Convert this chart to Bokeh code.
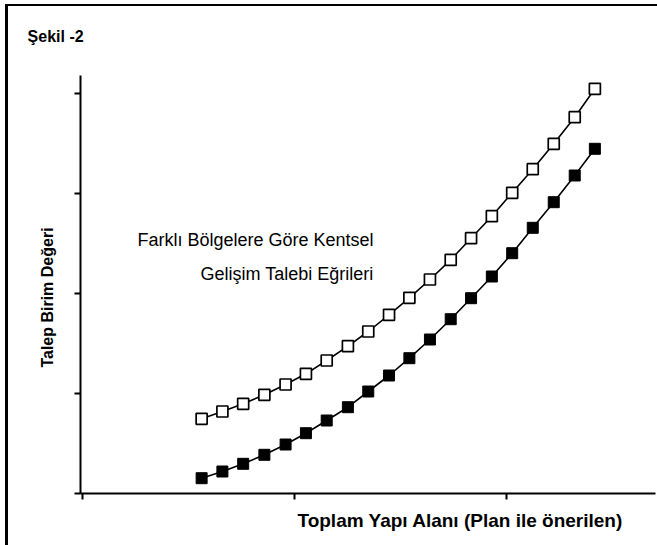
import math
from bokeh.plotting import figure
from bokeh.models import Label, FixedTicker, CustomJSTickFormatter, Range1d
from bokeh.embed import file_html
from bokeh.resources import INLINE

# Values (relative units)
area = [0.562, 0.660, 0.758, 0.858, 0.958, 1.054, 1.152, 1.252, 1.348, 1.446,
        1.542, 1.639, 1.737, 1.833, 1.931, 2.027, 2.124, 2.223, 2.322, 2.417]
demand_open = [0.747, 0.820, 0.897, 0.987, 1.090, 1.197, 1.330, 1.473, 1.620, 1.787,
               1.957, 2.140, 2.337, 2.553, 2.773, 3.007, 3.243, 3.497, 3.763, 4.047]
demand_filled = [0.153, 0.220, 0.297, 0.387, 0.490, 0.603, 0.730, 0.863, 1.020, 1.180,
                 1.353, 1.540, 1.743, 1.953, 2.170, 2.403, 2.657, 2.913, 3.180, 3.447]
x_ticks = [0, 1, 2]
y_ticks = [0, 1, 2, 3, 4]

title_text = "Şekil -2"
note_line1 = "Farklı Bölgelere Göre Kentsel"
note_line2 = "Gelişim Talebi Eğrileri"
x_label = "Toplam Yapı Alanı (Plan ile önerilen)"
y_label = "Talep Birim Değeri"

FONT = "Liberation Sans"

p = figure(width=657, height=545, output_backend="svg", toolbar_location=None,
           title=None,
           x_range=Range1d(-0.0094, 2.703), y_range=Range1d(0, 4.18),
           min_border_left=80, min_border_right=2, min_border_top=75, min_border_bottom=52)
# left and top edges of the scanned box: inset shadows on the (transparent) border area
p.styles = {"box-shadow": "inset 5px 4px 0px 0px white, inset 8px 6px 0px 0px black",
            "background-color": "white"}
p.background_fill_color = "white"
p.border_fill_alpha = 0
p.outline_line_color = None
p.grid.visible = False

for ax in (p.xaxis[0], p.yaxis[0]):
    ax.axis_line_color = "black"
    ax.axis_line_width = 2
    ax.major_tick_line_color = "black"
    ax.major_tick_line_width = 2
    ax.major_tick_out = 6
    ax.major_tick_in = 0
    ax.minor_tick_line_color = None
    ax.formatter = CustomJSTickFormatter(code="return ''")
    ax.major_label_standoff = 0
p.xaxis[0].ticker = FixedTicker(ticks=x_ticks)
p.yaxis[0].ticker = FixedTicker(ticks=y_ticks)

# curves
p.line(area, demand_open, line_color="black", line_width=1.6)
p.line(area, demand_filled, line_color="black", line_width=1.6)
p.scatter(area, demand_open, marker="square", size=11, fill_color="white",
          line_color="black", line_width=1.7)
p.scatter(area, demand_filled, marker="square", size=11, fill_color="black",
          line_color="black", line_width=1)

# texts (side-panel labels are not clipped to the plot frame)
p.add_layout(Label(x=-0.259, y=4.57, text=title_text,
                   text_font=FONT, text_font_size="16px", text_font_style="bold",
                   text_color="black", text_align="left", text_baseline="alphabetic"), "above")
p.add_layout(Label(x=1.373, y=2.54, text=note_line1,
                   text_font=FONT, text_font_size="18px", text_color="black",
                   text_align="right", text_baseline="alphabetic"))
p.add_layout(Label(x=1.373, y=2.20, text=note_line2,
                   text_font=FONT, text_font_size="18px", text_color="black",
                   text_align="right", text_baseline="alphabetic"))
p.add_layout(Label(x=1.014, y=-0.27, text=x_label,
                   text_font=FONT, text_font_size="19px", text_font_style="bold",
                   text_color="black", text_align="left", text_baseline="alphabetic"), "below")
p.add_layout(Label(x=-0.165, y=1.96, text=y_label,
                   text_font=FONT, text_font_size="16px", text_font_style="bold",
                   text_color="black", text_align="center", text_baseline="middle",
                   angle=math.pi / 2), "left")

open("out.html", "w").write(file_html(p, INLINE))
